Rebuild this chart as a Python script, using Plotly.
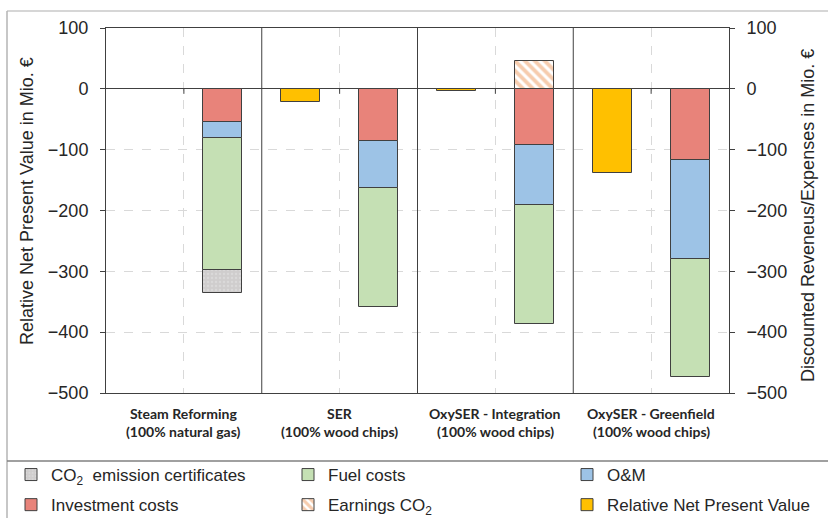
import plotly.graph_objects as go

# ---- data (Mio. €) ----
cat_names = ["Steam Reforming", "SER", "OxySER - Integration", "OxySER - Greenfield"]
cat_subs = ["(100% natural gas)", "(100% wood chips)", "(100% wood chips)", "(100% wood chips)"]

investment = [-55, -86, -92, -117]
om_costs = [-26, -77, -99, -162]
fuel_costs = [-216, -195, -195, -195]
co2_certificates = [-39, None, None, None]
earnings_co2 = [None, None, 46, None]
relative_npv = [0, -22, -3.6, -138]

y_ticks = [100, 0, -100, -200, -300, -400, -500]

# ---- figure geometry ----
W, H = 828, 518
PL, PR, PT, PB = 106, 729, 28, 393  # plot area in px


def px_x(px):
    return (px - PL) / (PR - PL)


def px_y(py):
    return (PB - py) / (PB - PT)


FONT = "Liberation Sans, Arial, sans-serif"
CAT_FONT = "Lato, Carlito, sans-serif"
TXT = "#262626"
EDGE = dict(color="#404040", width=1)

n = len(cat_names)
x_stack = [i + 0.75 for i in range(n)]
x_npv = [i + 0.25 for i in range(n)]
BW = 0.25

fig = go.Figure()


def add_bar(name, xs, ys, color, legend, rank, pattern=None):
    marker = dict(color=color, line=EDGE)
    if pattern:
        marker["pattern"] = pattern
    fig.add_trace(go.Bar(
        x=xs, y=ys, width=BW, name=name, marker=marker,
        legend=legend, legendrank=rank, legendgroup=name,
    ))


add_bar("Investment costs", x_stack, investment, "#E8837A", "legend", 2)
add_bar("O&amp;M", x_stack, om_costs, "#9DC3E6", "legend3", 1)
add_bar("Fuel costs", x_stack, fuel_costs, "#C5E0B4", "legend2", 1)
add_bar("CO<sub>2</sub>  emission certificates", x_stack, co2_certificates, "#D0CECE",
        "legend", 1, dict(shape=".", fgcolor="#E6E6E6", bgcolor="#CFCDCD", size=4, solidity=0.25))
add_bar("Earnings CO<sub>2</sub>", x_stack, earnings_co2, "#F4B183",
        "legend2", 2, dict(shape="\\", fgcolor="#EE9A5E", bgcolor="#FFFFFF", size=7, solidity=0.55))
add_bar("Relative Net Present Value", x_npv, relative_npv, "#FFC000", "legend3", 2)

# right-hand axis carries the same scale
fig.add_trace(go.Scatter(x=[None], y=[None], yaxis="y2", showlegend=False, hoverinfo="skip"))

shapes = []
# category dividers
for b in range(1, n):
    shapes.append(dict(type="line", xref="x", yref="paper", x0=b, x1=b, y0=0, y1=1,
                       line=dict(color="#404040", width=1)))
# small tick marks on the zero axis at category centres
for i in range(n):
    shapes.append(dict(type="line", xref="x", yref="y", ysizemode="pixel", yanchor=0,
                       x0=i + 0.5, x1=i + 0.5, y0=0, y1=-5,
                       line=dict(color="#404040", width=1)))
# outer frame and legend separator
shapes.append(dict(type="line", xref="paper", yref="paper", x0=px_x(7), x1=px_x(828),
                   y0=px_y(11), y1=px_y(11), line=dict(color="#C8C8C8", width=1.5)))
shapes.append(dict(type="line", xref="paper", yref="paper", x0=px_x(7), x1=px_x(7),
                   y0=px_y(11), y1=px_y(518), line=dict(color="#B4B4B4", width=1.5)))
shapes.append(dict(type="line", xref="paper", yref="paper", x0=px_x(7), x1=px_x(828),
                   y0=px_y(461), y1=px_y(461), line=dict(color="#808080", width=1.5)))

annotations = []
for i in range(n):
    annotations.append(dict(text="<b>%s</b>" % cat_names[i], x=i + 0.5, xref="x",
                            y=px_y(413), yref="paper", showarrow=False, yanchor="middle",
                            font=dict(family=CAT_FONT, size=14, color=TXT)))
    annotations.append(dict(text="<b>%s</b>" % cat_subs[i], x=i + 0.5, xref="x",
                            y=px_y(432), yref="paper", showarrow=False, yanchor="middle",
                            font=dict(family=CAT_FONT, size=14, color=TXT)))
annotations.append(dict(text="Relative Net Present Value in Mio. €", textangle=-90,
                        x=px_x(27), y=px_y(201), xref="paper", yref="paper",
                        showarrow=False, xanchor="center", yanchor="middle",
                        font=dict(family=FONT, size=18, color=TXT)))
annotations.append(dict(text="Discounted Reveneus/Expenses in Mio. €", textangle=-90,
                        x=px_x(808), y=px_y(216), xref="paper", yref="paper",
                        showarrow=False, xanchor="center", yanchor="middle",
                        font=dict(family=FONT, size=18, color=TXT)))

legend_common = dict(orientation="v", xanchor="left", yanchor="top", y=px_y(457),
                     bgcolor="rgba(0,0,0,0)", tracegroupgap=5,
                     font=dict(family=FONT, size=17, color=TXT))

yaxis_common = dict(range=[-500, 100], tickvals=y_ticks, ticks="outside", ticklen=5,
                    tickcolor="#404040", tickfont=dict(family=FONT, size=18, color=TXT),
                    ticklabelstandoff=8)

fig.update_layout(
    width=W, height=H,
    margin=dict(l=PL, r=W - PR, t=PT, b=H - PB, autoexpand=False),
    paper_bgcolor="white", plot_bgcolor="white",
    barmode="relative", bargap=0,
    showlegend=True,
    xaxis=dict(range=[0, n], tickvals=[i + 0.5 for i in range(n)], showticklabels=False,
               showgrid=True, gridcolor="#D9D9D9", griddash="dash", gridwidth=1,
               showline=True, linecolor="#404040", linewidth=1, mirror=True,
               zeroline=False, ticks=""),
    yaxis=dict(**yaxis_common, showgrid=True, gridcolor="#D9D9D9", griddash="dash",
               zeroline=True, zerolinecolor="#404040", zerolinewidth=1,
               showline=True, linecolor="#404040", linewidth=1, mirror=True),
    yaxis2=dict(**yaxis_common, overlaying="y", side="right", anchor="x",
                showgrid=False, zeroline=False, showline=False),
    legend=dict(**legend_common, x=px_x(11)),
    legend2=dict(**legend_common, x=px_x(288)),
    legend3=dict(**legend_common, x=px_x(567)),
    shapes=shapes,
    annotations=annotations,
)

fig.write_html("out.html")
